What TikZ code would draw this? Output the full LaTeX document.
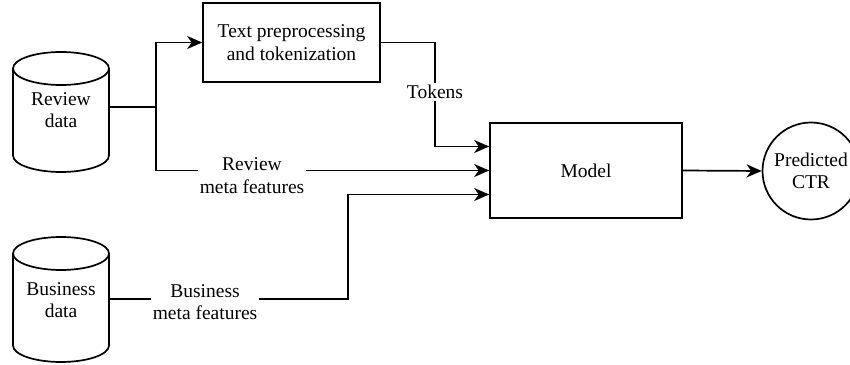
\documentclass[tikz,border=0pt]{standalone}
\usepackage{fontspec}
\setmainfont{Liberation Serif}
\usetikzlibrary{arrows.meta,positioning}
\begin{document}
\begin{tikzpicture}[x=1pt,y=1pt,
  line width=1.7pt,
  every node/.style={font=\fontsize{19.5}{22.5}\selectfont, align=center},
  box/.style={draw, rectangle, inner sep=0pt},
  lbl/.style={fill=white, inner sep=2pt},
  arr/.style={-{Stealth[length=15pt,width=13pt,inset=4.5pt]}}]
\useasboundingbox (0,0) rectangle (850,364);
% Review data cylinder
\draw (13,295.5) -- (13,208.5) arc[start angle=180,end angle=360,x radius=48pt,y radius=16.5pt] -- (109,295.5);
\draw (61,295.5) ellipse[x radius=48pt,y radius=16.5pt];
\node (rd) at (61,254) {Review\\data};
\coordinate (rdout) at (109,257);
% Business data cylinder
\draw (13,110.5) -- (13,18.5) arc[start angle=180,end angle=360,x radius=48pt,y radius=16.5pt] -- (109,110.5);
\draw (61,110.5) ellipse[x radius=48pt,y radius=16.5pt];
\node (bd) at (61,64) {Business\\data};
\coordinate (bdout) at (109,65);
% boxes
\node[box, minimum width=177pt, minimum height=79pt] (tp) at (291.5,321.5) {Text preprocessing\\and tokenization};
\node[box, minimum width=192pt, minimum height=95pt] (model) at (586,193.5) {Model};
\node[draw, circle, minimum size=97pt, inner sep=0pt] (ctr) at (811,193) {Predicted\\CTR};
% junction
\coordinate (j) at (156,257);
\draw (rdout) -- (j);
\draw[arr] (j) |- (tp.west);
\draw[arr] (j) |- (model.west);
\node[lbl] (rmf) at (252,188.5) {Review\\meta features};
% tokens
\coordinate (tk1) at (435,321.5);
\draw[arr] (tp.east) -- (tk1) |- ([yshift=24pt]model.west);
\node[lbl] (tok) at (435,272) {Tokens};
% business
\coordinate (bk) at (348,65);
\draw[arr] (bdout) -- (bk) |- ([yshift=-24pt]model.west);
\node[lbl] (bmf) at (205,62) {Business\\meta features};
% output
\draw[arr] (model.east) -- (ctr.west);
\end{tikzpicture}
\end{document}
